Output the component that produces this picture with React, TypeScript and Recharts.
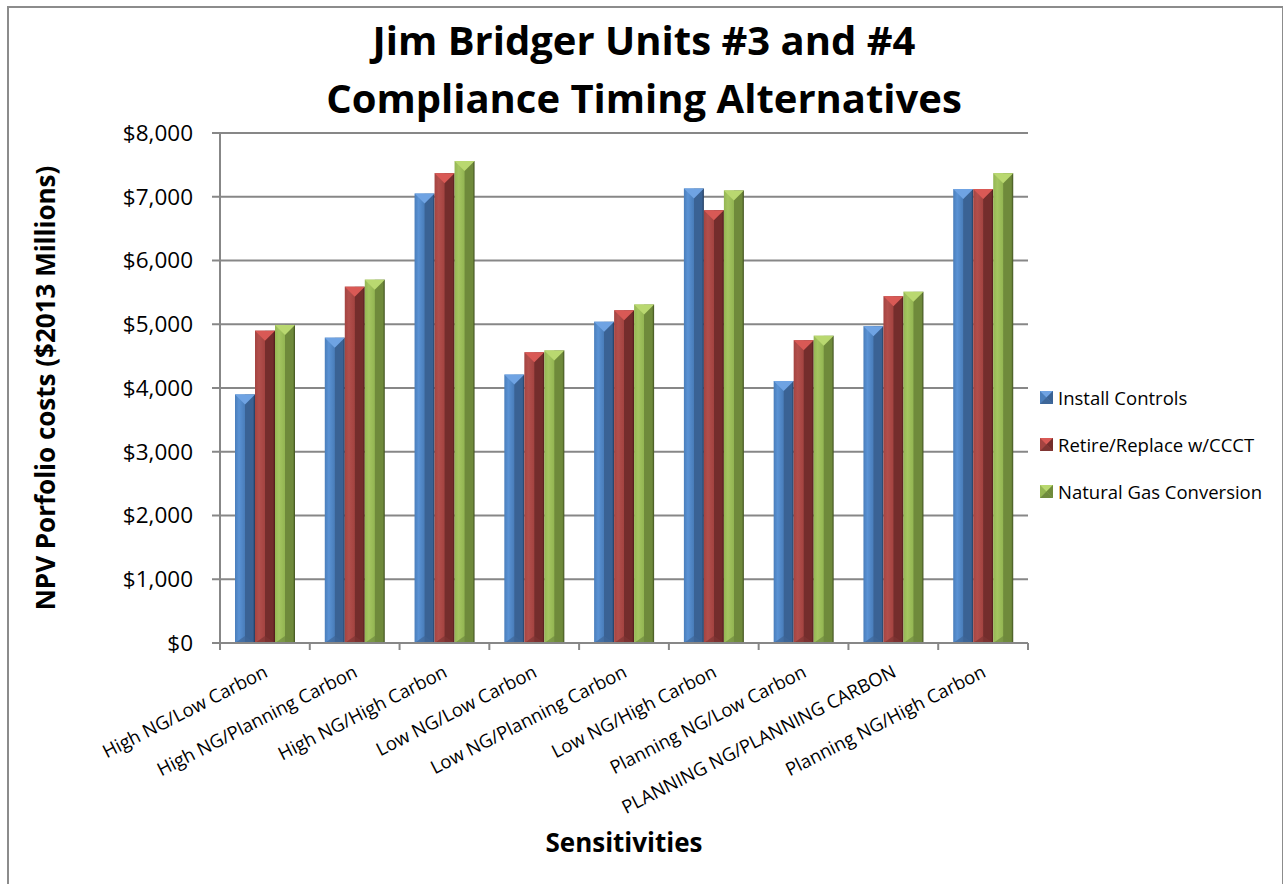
import React from 'react';
import {
  BarChart,
  Bar,
  XAxis,
  YAxis,
  CartesianGrid,
  Label,
} from 'recharts';

const categories = [
  'High NG/Low Carbon',
  'High NG/Planning Carbon',
  'High NG/High Carbon',
  'Low NG/Low Carbon',
  'Low NG/Planning Carbon',
  'Low NG/High Carbon',
  'Planning NG/Low Carbon',
  'PLANNING NG/PLANNING CARBON',
  'Planning NG/High Carbon',
];

const installControls = [3900, 4790, 7050, 4210, 5040, 7130, 4110, 4970, 7120];
const retireReplace = [4900, 5590, 7370, 4560, 5220, 6790, 4750, 5440, 7120];
const gasConversion = [4990, 5700, 7560, 4590, 5310, 7100, 4820, 5510, 7370];

const yTicks = [0, 1000, 2000, 3000, 4000, 5000, 6000, 7000, 8000];

const FONT = '"Open Sans", "Noto Sans", sans-serif';
const AXIS_GREY = '#878787';

const WIDTH = 1283;
const HEIGHT = 884;
const PLOT_LEFT = 220;
const PLOT_RIGHT = 1028;
const PLOT_TOP = 133;
const PLOT_BOTTOM = 643;
const BAND = (PLOT_RIGHT - PLOT_LEFT) / categories.length;

interface Palette {
  id: string;
  name: string;
  dataKey: string;
  light: string;
  base: string;
  dark: string;
  edge: string;
  top: string;
  bottom: string;
}

const series: Palette[] = [
  {
    id: 'blue',
    name: 'Install Controls',
    dataKey: 'install',
    light: '#5a92d4',
    base: '#4a7ebb',
    dark: '#3a6294',
    edge: '#223a5c',
    top: '#6fa3e3',
    bottom: '#3e6799',
  },
  {
    id: 'red',
    name: 'Retire/Replace w/CCCT',
    dataKey: 'retire',
    light: '#b24f4c',
    base: '#a44441',
    dark: '#742d2c',
    edge: '#4c1a19',
    top: '#d95955',
    bottom: '#7f3533',
  },
  {
    id: 'green',
    name: 'Natural Gas Conversion',
    dataKey: 'gas',
    light: '#a4c560',
    base: '#94b653',
    dark: '#6f8a3b',
    edge: '#3f4f1f',
    top: '#b9d870',
    bottom: '#6f8a3e',
  },
];

const data = categories.map((name, i) => ({
  name,
  install: installControls[i],
  retire: retireReplace[i],
  gas: gasConversion[i],
}));

const formatDollars = (v: number) => `$${v.toLocaleString('en-US')}`;

// bevelled column: shaded faces plus a lighter pyramid cap and a darker foot
const makeBevelBar = (p: Palette) => (props: any) => {
  const { x, y, width, height } = props;
  if (!height || height <= 0) return null;
  const half = width / 2;
  const cap = Math.min(half, height / 2);
  const foot = Math.min(half * 0.7, height / 2);
  return (
    <g>
      <rect x={x} y={y} width={width} height={height} fill={`url(#grad-${p.id})`} />
      <polygon
        points={`${x},${y} ${x + width},${y} ${x + half},${y + cap}`}
        fill={p.top}
      />
      <polygon
        points={`${x},${y + height} ${x + width},${y + height} ${x + half},${y + height - foot}`}
        fill={p.bottom}
        opacity={0.7}
      />
    </g>
  );
};

const CategoryTick = (props: any) => {
  const { x, y, payload, index } = props;
  const left = x - BAND / 2;
  const isLast = index === categories.length - 1;
  return (
    <g>
      <line x1={left} y1={y - 8} x2={left} y2={y - 1} stroke={AXIS_GREY} strokeWidth={2} />
      {isLast && (
        <line
          x1={left + BAND}
          y1={y - 8}
          x2={left + BAND}
          y2={y - 1}
          stroke={AXIS_GREY}
          strokeWidth={2}
        />
      )}
      <g transform={`translate(${x + 4},${y + 25})`}>
        <text
          textAnchor="end"
          transform="rotate(-27)"
          fontFamily={FONT}
          fontSize={18.5}
          fill="#000"
        >
          {payload.value}
        </text>
      </g>
    </g>
  );
};

const LegendSwatch = ({ p }: { p: Palette }) => (
  <svg width={13} height={13} style={{ display: 'block' }}>
    <rect x={0} y={0} width={13} height={13} fill={p.base} />
    <polygon points="0,0 13,0 6.5,6.5" fill={p.top} />
    <polygon points="13,0 13,13 6.5,6.5" fill={p.dark} />
    <polygon points="0,13 13,13 6.5,6.5" fill={p.bottom} />
  </svg>
);

const App: React.FC = () => {
  return (
    <div
      style={{
        position: 'absolute',
        left: 0,
        top: 0,
        width: WIDTH,
        height: HEIGHT,
        background: '#fff',
        overflow: 'hidden',
        fontFamily: FONT,
      }}
    >
      <div
        style={{
          position: 'absolute',
          left: 7,
          top: 6,
          width: 1273,
          height: 920,
          border: '2px solid #8c8c8c',
        }}
      />
      <div
        style={{
          position: 'absolute',
          left: 0,
          top: 11,
          width: 1288,
          textAlign: 'center',
          fontSize: 40,
          fontWeight: 700,
          lineHeight: '58px',
          color: '#000',
        }}
      >
        <div>Jim Bridger Units #3 and #4</div>
        <div>Compliance Timing Alternatives</div>
      </div>

      <div style={{ position: 'absolute', left: 0, top: 0 }}>
        <BarChart
          width={WIDTH}
          height={HEIGHT}
          data={data}
          margin={{ top: PLOT_TOP, right: WIDTH - PLOT_RIGHT, left: 0, bottom: 0 }}
          barGap={0}
          barCategoryGap={15}
        >
          <defs>
            {series.map((p) => (
              <linearGradient key={p.id} id={`grad-${p.id}`} x1="0" y1="0" x2="1" y2="0">
                <stop offset="0%" stopColor={p.base} />
                <stop offset="20%" stopColor={p.light} />
                <stop offset="48%" stopColor={p.base} />
                <stop offset="52%" stopColor={p.dark} />
                <stop offset="90%" stopColor={p.dark} />
                <stop offset="100%" stopColor={p.edge} />
              </linearGradient>
            ))}
          </defs>
          <CartesianGrid vertical={false} stroke={AXIS_GREY} strokeWidth={2} />
          <XAxis
            dataKey="name"
            height={HEIGHT - PLOT_BOTTOM}
            interval={0}
            axisLine={{ stroke: AXIS_GREY, strokeWidth: 2 }}
            tickLine={false}
            tick={<CategoryTick />}
          >
            <Label
              content={({ viewBox }: any) => (
                <text
                  x={viewBox.x + viewBox.width / 2}
                  y={viewBox.y + 199}
                  textAnchor="middle"
                  dominantBaseline="central"
                  fontFamily={FONT}
                  fontSize={26}
                  fontWeight={700}
                  fill="#000"
                >
                  Sensitivities
                </text>
              )}
            />
          </XAxis>
          <YAxis
            width={PLOT_LEFT}
            domain={[0, 8000]}
            ticks={yTicks}
            interval={0}
            tickFormatter={formatDollars}
            axisLine={{ stroke: AXIS_GREY, strokeWidth: 2 }}
            tickLine={{ stroke: AXIS_GREY, strokeWidth: 2 }}
            tickSize={8}
            tickMargin={19}
            tick={{ fontFamily: FONT, fontSize: 22.5, fill: '#000' }}
          >
            <Label
              content={({ viewBox }: any) => {
                const cx = 45;
                const cy = viewBox.y + viewBox.height / 2;
                return (
                  <text
                    x={cx}
                    y={cy}
                    transform={`rotate(-90 ${cx} ${cy})`}
                    textAnchor="middle"
                    dominantBaseline="central"
                    fontFamily={FONT}
                    fontSize={26}
                    fontWeight={700}
                    fill="#000"
                  >
                    NPV Porfolio costs ($2013 Millions)
                  </text>
                );
              }}
            />
          </YAxis>
          {series.map((p) => (
            <Bar
              key={p.id}
              dataKey={p.dataKey}
              name={p.name}
              fill={p.base}
              shape={makeBevelBar(p)}
              isAnimationActive={false}
            />
          ))}
        </BarChart>
      </div>

      <div style={{ position: 'absolute', left: 1040, top: 385 }}>
        {series.map((p) => (
          <div
            key={p.id}
            style={{
              display: 'flex',
              alignItems: 'center',
              height: 24,
              marginBottom: 23,
              fontSize: 18.5,
              color: '#000',
              whiteSpace: 'nowrap',
            }}
          >
            <LegendSwatch p={p} />
            <span style={{ marginLeft: 5 }}>{p.name}</span>
          </div>
        ))}
      </div>
    </div>
  );
};

export default App;
